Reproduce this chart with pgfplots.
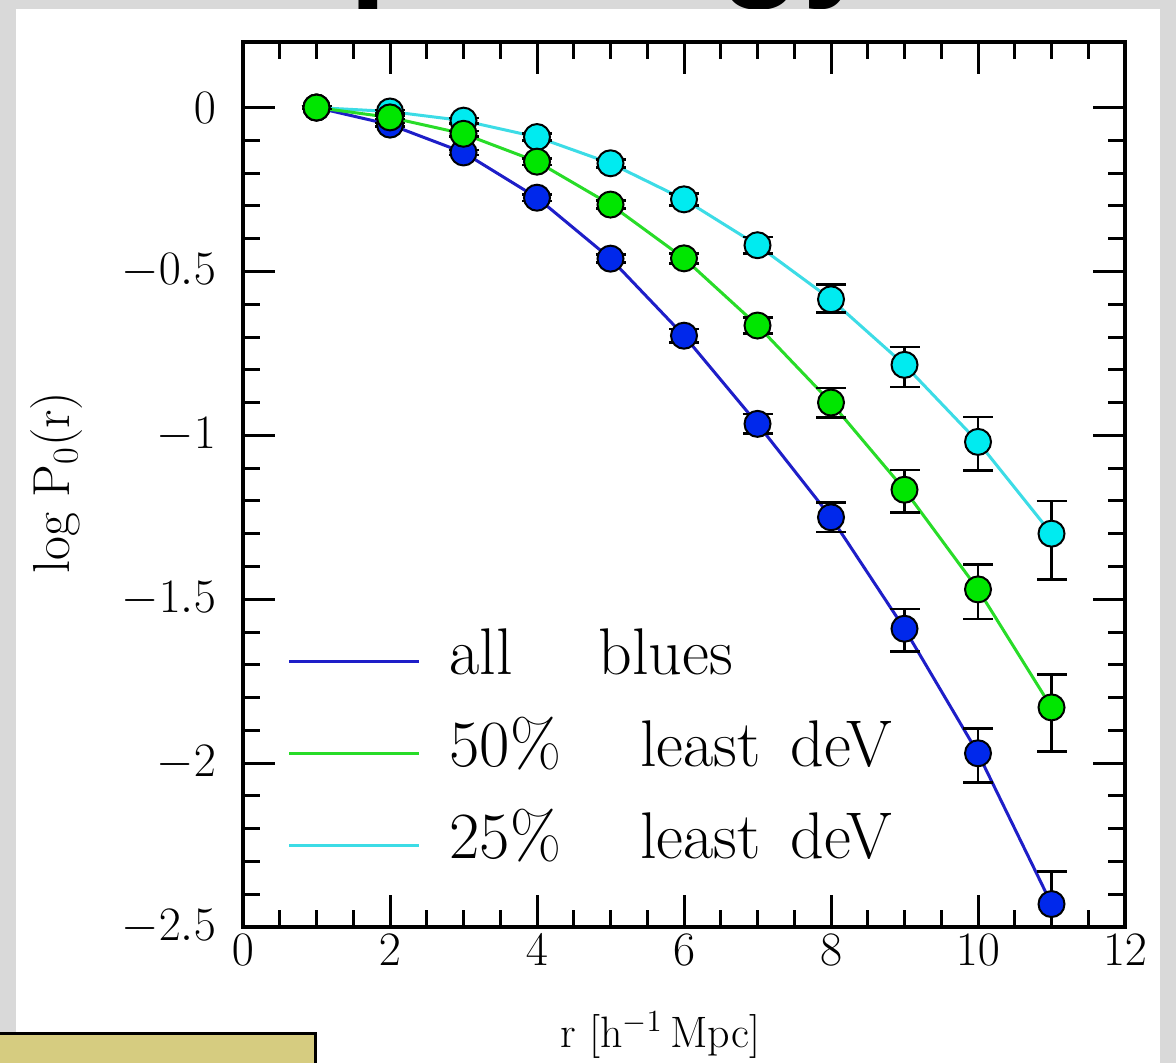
\documentclass[border=0pt]{standalone}
\usepackage{fix-cm}
\usepackage{fontspec}
\usepackage{pgfplots}
\pgfplotsset{compat=1.18}
\newfontfamily\titlefont{Liberation Sans}

\definecolor{bggray}{RGB}{217,217,217}
\definecolor{boxyellow}{RGB}{214,204,128}
\definecolor{blueline}{RGB}{30,30,200}
\definecolor{bluemark}{RGB}{0,40,235}
\definecolor{greenline}{RGB}{40,220,40}
\definecolor{greenmark}{RGB}{0,230,0}
\definecolor{cyanline}{RGB}{60,220,230}
\definecolor{cyanmark}{RGB}{0,235,240}

\pgfplotsset{
  pts/.style={line width=1.5pt, mark=*, mark size=6.5pt,
    mark options={fill=#1, draw=black, line width=1pt},
    error bars/.cd, y dir=both, y explicit,
    error bar style={black, line width=1.3pt},
    error mark options={black, rotate=90, mark size=7.5pt, line width=1.3pt},
    /pgfplots/.cd},
}

\begin{document}
\begin{tikzpicture}
\path[use as bounding box] (0,0) rectangle (588pt,-531.5pt);
\clip (0,0) rectangle (588pt,-531.5pt);
\fill[bggray] (0,0) rectangle (588pt,-531.5pt);
% slide title, mostly cut off at the top
\node[anchor=base west, inner sep=0pt, font=\titlefont\bfseries\fontsize{68}{68}\selectfont] at (50pt,9pt) {Morphology};
\fill[white] (8pt,-4.5pt) rectangle (580pt,-540pt);

\begin{axis}[
    at={(121.5pt,-463.5pt)}, anchor=south west,
    scale only axis, width=441pt, height=442.5pt,
    xmin=0, xmax=12, ymin=-2.5, ymax=0.2,
    xtick={0,2,...,12}, ytick={-2.5,-2,-1.5,-1,-0.5,0},
    minor x tick num=3, minor y tick num=4,
    tick align=inside, xtick pos=both, ytick pos=both,
    axis line style={line width=2pt},
    tick style={black, line width=1.5pt},
    major tick length=16pt, minor tick length=8.5pt,
    tick label style={font=\fontsize{24}{24}\selectfont},
    yticklabel style={xshift=-10pt},
    xlabel style={font=\fontsize{22}{22}\selectfont},
    ylabel style={font=\fontsize{26}{26}\selectfont},
    xlabel={r [h$^{-1}\,$Mpc]},
    ylabel={log P$_{0}$(r)},
    xlabel style={at={(axis description cs:0.473,-0.122)}, anchor=center},
    ylabel style={at={(axis description cs:-0.211,0.502)}, anchor=center},
    legend cell align=left,
    legend image code/.code={\draw[#1] (0pt,-2pt) -- (65pt,-2pt);},
    legend style={draw=none, fill=none, inner sep=0pt,
      at={(0.05,0.34)}, anchor=north west,
      row sep=15pt, font=\fontsize{33}{33}\selectfont,
      nodes={inner sep=0pt, text height=24pt, text depth=7pt},
      /tikz/every odd column/.append style={column sep=14.5pt}},
  ]

  \addlegendimage{blueline, line width=1.5pt}
  \addlegendimage{greenline, line width=1.5pt}
  \addlegendimage{cyanline, line width=1.5pt}

  % all blues
  \addplot[forget plot, blueline, pts=bluemark] coordinates {
    (1,0) +- (0,0.005)
    (2,-0.052) +- (0,0.005)
    (3,-0.137) +- (0,0.008)
    (4,-0.275) +- (0,0.01)
    (5,-0.461) +- (0,0.012)
    (6,-0.696) +- (0,0.02)
    (7,-0.965) +- (0,0.03)
    (8,-1.25) +- (0,0.045)
    (9,-1.59) += (0,0.06) -= (0,0.07)
    (10,-1.97) += (0,0.076) -= (0,0.09)
    (11,-2.43) += (0,0.1) -= (0,0.1)
  };
  % 25% least deV
  \addplot[forget plot, cyanline, pts=cyanmark] coordinates {
    (1,0) +- (0,0.005)
    (2,-0.012) +- (0,0.005)
    (3,-0.04) +- (0,0.008)
    (4,-0.09) +- (0,0.01)
    (5,-0.17) +- (0,0.012)
    (6,-0.28) +- (0,0.018)
    (7,-0.42) +- (0,0.025)
    (8,-0.585) += (0,0.046) -= (0,0.04)
    (9,-0.785) += (0,0.055) -= (0,0.067)
    (10,-1.02) += (0,0.076) -= (0,0.088)
    (11,-1.30) += (0,0.1) -= (0,0.14)
  };
  % 50% least deV
  \addplot[forget plot, greenline, pts=greenmark] coordinates {
    (1,0) +- (0,0.005)
    (2,-0.03) +- (0,0.005)
    (3,-0.08) +- (0,0.008)
    (4,-0.165) +- (0,0.01)
    (5,-0.296) +- (0,0.012)
    (6,-0.46) +- (0,0.015)
    (7,-0.665) +- (0,0.025)
    (8,-0.90) +- (0,0.045)
    (9,-1.166) += (0,0.06) -= (0,0.07)
    (10,-1.47) += (0,0.076) -= (0,0.09)
    (11,-1.83) += (0,0.1) -= (0,0.135)
  };

  \legend{all\hspace{1em} blues, 50\%\hspace{0.9em} least\hspace{0.45em}deV, 25\%\hspace{0.9em} least\hspace{0.45em}deV}
\end{axis}

\filldraw[fill=boxyellow, draw=black, line width=1.5pt] (-5pt,-516.5pt) rectangle (157.5pt,-540pt);
\end{tikzpicture}
\end{document}
